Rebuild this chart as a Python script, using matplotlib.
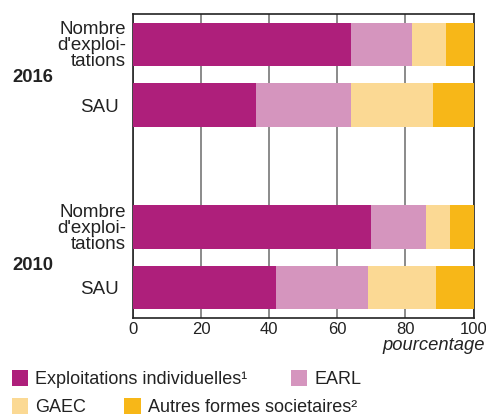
import numpy as np
import matplotlib
matplotlib.use("Agg")
import matplotlib.pyplot as plt

plt.rcParams["font.family"] = ["Liberation Sans", "DejaVu Sans"]

# rows top to bottom
row_labels = ["Nombre\nd'exploi-\ntations", "SAU", "Nombre\nd'exploi-\ntations", "SAU"]
years = ["2016", "2010"]
categories = ["Exploitations individuelles¹", "EARL", "GAEC", "Autres formes societaires²"]
individuelles = [64, 36, 70, 42]
earl = [18, 28, 16, 27]
gaec = [10, 24, 7, 20]
autres = [8, 12, 7, 11]
x_ticks = [0, 20, 40, 60, 80, 100]

colors = ["#AE1F7B", "#D595BE", "#FBD994", "#F7B718"]
positions = np.array([0, 1, 3, 4])

fig = plt.figure(figsize=(4.86, 4.16), dpi=100)
ax = fig.add_axes([133 / 486, 1 - 318 / 416, 340.5 / 486, 304 / 416])

series = [individuelles, earl, gaec, autres]
left = np.zeros(len(positions))
handles = []
for vals, col, lab in zip(series, colors, categories):
    b = ax.barh(positions, vals, left=left, height=0.72, color=col, label=lab, zorder=3)
    handles.append(b)
    left += np.array(vals)

ax.set_xlim(0, 100)
ax.set_ylim(4.5, -0.5)
ax.set_xticks(x_ticks)
ax.set_xticklabels([str(t) for t in x_ticks], fontsize=12, color="#222222")
ax.tick_params(axis="x", length=0, pad=3)
ax.set_yticks(positions)
ax.set_yticklabels(row_labels, fontsize=13.5, color="#222222", ha="right",
                   multialignment="right", linespacing=0.92)
ax.tick_params(axis="y", length=0, pad=5)
for t in ax.get_yticklabels():
    if t.get_text() == "SAU":
        t.set_x(-0.02)
ax.grid(axis="x", color="#8a8a8a", linewidth=1.4, zorder=0)
for s in ax.spines.values():
    s.set_color("#222222")
    s.set_linewidth(1.2)

fig.text(12 / 486, 1 - 77 / 416, years[0], fontsize=13.3, fontweight="bold",
         color="#222222", va="center", ha="left")
fig.text(12 / 486, 1 - 266 / 416, years[1], fontsize=13.3, fontweight="bold",
         color="#222222", va="center", ha="left")
fig.text(485 / 486, 1 - 346 / 416, "pourcentage", fontsize=13.2, style="italic",
         color="#222222", va="center", ha="right")

leg_kw = dict(frameon=False, fontsize=13, handlelength=0.9, handleheight=0.95,
              handletextpad=0.4, borderaxespad=0, borderpad=0, labelcolor="#222222")
fig.legend(handles[:2], categories[:2], ncol=2, columnspacing=2.4,
           loc="center left", bbox_to_anchor=(12 / 486, 1 - 379 / 416), **leg_kw)
fig.legend(handles[2:], categories[2:], ncol=2, columnspacing=2.1,
           loc="center left", bbox_to_anchor=(12 / 486, 1 - 407 / 416), **leg_kw)

fig.savefig("out.png", dpi=100)
